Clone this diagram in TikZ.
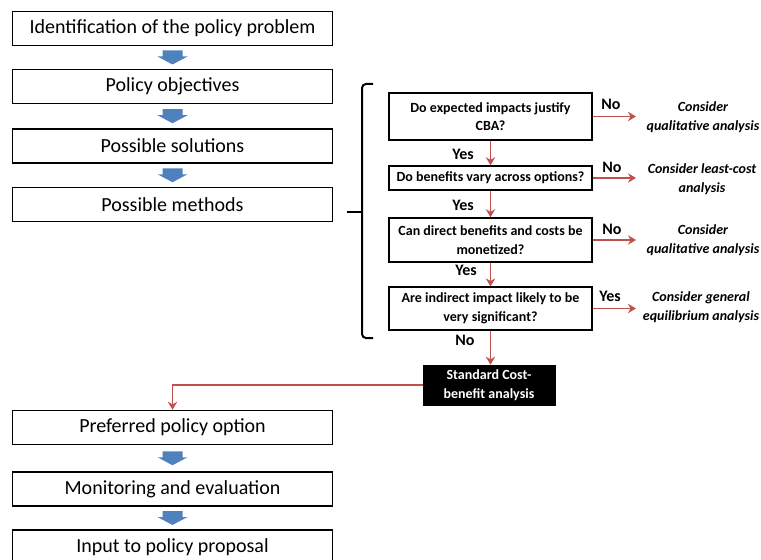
\documentclass[tikz,border=0pt]{standalone}
\usepackage{fontspec}
\setmainfont{Carlito}
\usetikzlibrary{arrows.meta,calc}

\definecolor{arrblue}{HTML}{4F81BD}
\definecolor{linered}{HTML}{C0504D}

\tikzset{
  stepbox/.style={draw, rectangle, line width=1.1pt, minimum width=240pt, minimum height=25.5pt, inner sep=0pt, font=\fontsize{15}{18}\selectfont},
  askbox/.style={draw, rectangle, line width=1.1pt, minimum width=152pt, minimum height=33pt, align=center, inner sep=0pt, font=\fontsize{10.5}{14}\selectfont\bfseries},
  cbabox/.style={draw, fill=black, text=white, rectangle, minimum width=99pt, minimum height=30pt, align=center, inner sep=0pt, font=\fontsize{10.5}{14}\selectfont\bfseries},
  note/.style={align=center, inner sep=0pt, font=\fontsize{10.5}{14}\selectfont\bfseries\itshape},
  answer/.style={inner sep=0pt, font=\fontsize{12}{14}\selectfont\bfseries},
  redarr/.style={draw=linered, line width=1.4pt, -{Stealth[length=6pt,width=7pt]}},
  brace/.style={line width=1.5pt, rounded corners=3pt}
}

\begin{document}
\begin{tikzpicture}[x=0.75pt, y=-0.75pt]
\useasboundingbox (0,0) rectangle (761,560);

% main steps
\node[stepbox] (prob) at (172.5,28.5) {Identification of the policy problem};
\node[stepbox] (obj) at (172.5,86.5) {Policy objectives};
\node[stepbox] (sol) at (172.5,146) {Possible solutions};
\node[stepbox] (meth) at (172.5,204.5) {Possible methods};
\node[stepbox] (pref) at (172.5,427.5) {Preferred policy option};
\node[stepbox] (mon) at (172.5,489) {Monitoring and evaluation};
\node[stepbox] (inp) at (172.5,547) {Input to policy proposal};

\foreach \a/\b in {prob/obj, obj/sol, sol/meth, pref/mon, mon/inp}
  \fill[arrblue] ($(\a.south)!0.5!(\b.north)$) ++(-10,-7) -- ++(20,0) -- ++(0,6) -- ++(5,0)
    -- ++(-15,8) -- ++(-15,-8) -- ++(5,0) -- cycle;

% choice of method
\draw[brace] (373,84) -- (362,84) -- (362,338) -- (373,338);
\draw[brace] (362,212) -- (347,212);

\node[askbox, minimum height=35pt] (q1) at (490.5,116.5) {Do expected impacts justify\\CBA?};
\node[askbox, minimum height=18pt] (q2) at (490.5,178) {Do benefits vary across options?};
\node[askbox] (q3) at (490.5,240) {Can direct benefits and costs be\\monetized?};
\node[askbox, minimum height=32pt] (q4) at (490.5,308.5) {Are indirect impact likely to be\\very significant?};
\node[cbabox] (cba) at (489,385) {Standard Cost-\\benefit analysis};

\coordinate (e1) at (636,116.5);
\coordinate (e2) at (636,178);
\coordinate (e3) at (636,240);
\coordinate (e4) at (636,308.5);

\node[note] (c1) at (703,117.5) {Consider\\qualitative analysis};
\node[note] (c2) at (702,179) {Consider least-cost\\analysis};
\node[note] (c3) at (703,240) {Consider\\qualitative analysis};
\node[note] (c4) at (701,307.5) {Consider general\\equilibrium analysis};

\draw[redarr] (q1.east) -- (e1);
\draw[redarr] (q2.east) -- (e2);
\draw[redarr] (q3.east) -- (e3);
\draw[redarr] (q4.east) -- (e4);
\node[answer] (n1) at (611,104) {No};
\node[answer] (n2) at (612,167) {No};
\node[answer] (n3) at (612,229) {No};
\node[answer] (n4) at (610,296) {Yes};

\draw[redarr] (q1) -- (q2);
\draw[redarr] (q2) -- (q3);
\draw[redarr] (q3) -- (q4);
\draw[redarr] (q4.south) -- (q4.south |- cba.north);
\node[answer] (y1) at (463,154) {Yes};
\node[answer] (y2) at (463,205) {Yes};
\node[answer] (y3) at (466,270) {Yes};
\node[answer] (y4) at (465,340) {No};

\draw[redarr] (cba.west) -| (pref.north);
\end{tikzpicture}
\end{document}
